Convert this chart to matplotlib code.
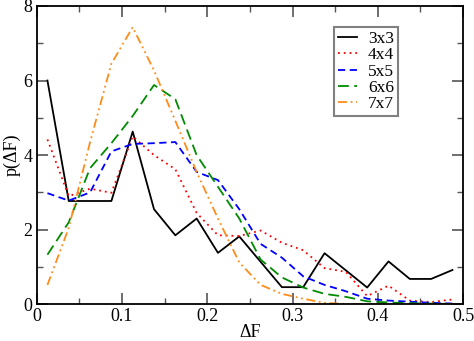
import numpy as np
import matplotlib
matplotlib.use("Agg")
import matplotlib.pyplot as plt
from matplotlib.ticker import MultipleLocator

# bin centres of delta F
dF = [0.0125, 0.0375, 0.0625, 0.0875, 0.1125, 0.1375, 0.1625, 0.1875, 0.2125, 0.2375,
      0.2625, 0.2875, 0.3125, 0.3375, 0.3625, 0.3875, 0.4125, 0.4375, 0.4625, 0.4875]

p_3x3 = [6.0, 2.77, 2.77, 2.77, 4.63, 2.55, 1.85, 2.3, 1.38, 1.82,
         1.14, 0.46, 0.46, 1.37, 0.91, 0.45, 1.15, 0.68, 0.68, 0.92]
p_4x4 = [4.42, 2.9, 3.1, 2.99, 4.5, 4.0, 3.62, 2.45, 1.85, 1.83,
         1.98, 1.65, 1.45, 0.97, 0.87, 0.22, 0.5, 0.1, 0.06, 0.13]
p_5x5 = [2.98, 2.78, 3.0, 4.1, 4.3, 4.32, 4.35, 3.55, 3.33, 2.55,
         1.62, 1.25, 0.75, 0.52, 0.35, 0.15, 0.1, 0.07, 0.04, 0.02]
p_6x6 = [1.33, 2.2, 3.65, 4.32, 5.05, 5.88, 5.5, 4.0, 3.15, 2.3,
         1.2, 0.72, 0.45, 0.28, 0.2, 0.08, 0.05, 0.03, 0.02, 0.01]
p_7x7 = [0.52, 2.05, 4.35, 6.45, 7.43, 6.27, 4.92, 3.55, 2.3, 1.12,
         0.52, 0.28, 0.15, 0.04, 0.01, 0.0, 0.0, 0.0, 0.0, 0.0]

labels = ["3x3", "4x4", "5x5", "6x6", "7x7"]

plt.rcParams['font.family'] = ['Liberation Serif', 'DejaVu Serif']

fig = plt.figure(figsize=(4.74, 3.41), dpi=100)
ax = fig.add_axes([0.0776, 0.1076, 0.8994, 0.875])

lw = 1.3
ax.plot(dF, p_3x3, color='black', lw=lw, label=labels[0])
ax.plot(dF, p_4x4, color='#ff0000', lw=lw, ls=(0, (1, 2.2)), label=labels[1])
ax.plot(dF, p_5x5, color='#0000ff', lw=lw, ls=(0, (4, 2.5)), label=labels[2])
ax.plot(dF, p_6x6, color='#008b00', lw=lw, ls=(0, (6, 3)), label=labels[3])
ax.plot(dF, p_7x7, color='#ff8c1a', lw=lw, ls=(0, (5, 2, 1, 2, 1, 2)), label=labels[4])

ax.set_xlim(0, 0.5)
ax.set_ylim(0, 8)
ax.xaxis.set_minor_locator(MultipleLocator(0.05))
ax.yaxis.set_minor_locator(MultipleLocator(1))
ax.set_xticks([0, 0.1, 0.2, 0.3, 0.4, 0.5])
ax.set_xticklabels(['0', '0.1', '0.2', '0.3', '0.4', '0.5'])
ax.set_yticks([0, 2, 4, 6, 8])
ax.set_yticklabels(['0', '2', '4', '6', '8'])

ax.tick_params(which='both', direction='in', top=True, right=True,
               labelsize=13, color='#555555', pad=3)
ax.tick_params(which='major', length=8, width=1.2)
ax.tick_params(which='minor', length=4.5, width=1.0)
for s in ax.spines.values():
    s.set_linewidth(1.3)

ax.set_xlabel('ΔF', fontsize=13, labelpad=-1)
ax.set_ylabel('p(ΔF)', fontsize=13, labelpad=2)

leg = ax.legend(loc='upper left', bbox_to_anchor=(0.697, 0.93), fontsize=12.5,
                handlelength=1.1, handletextpad=0.6, labelspacing=0.0,
                borderpad=0.25, borderaxespad=0, fancybox=False, framealpha=1)
leg.get_frame().set_edgecolor('#808080')
leg.get_frame().set_linewidth(1.5)

fig.savefig('out.png', dpi=100)
